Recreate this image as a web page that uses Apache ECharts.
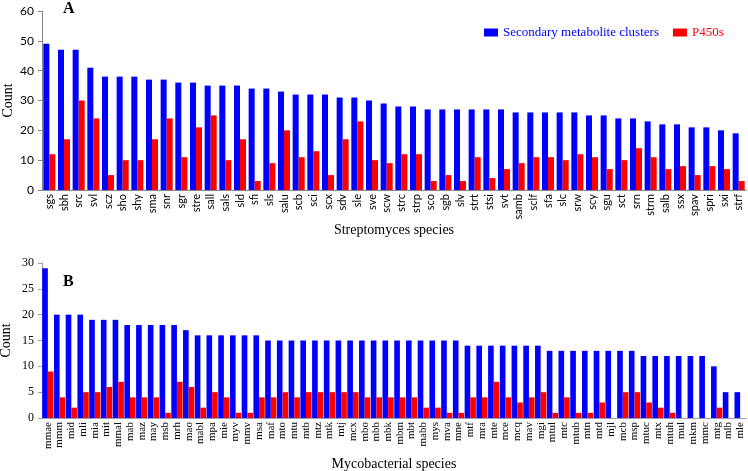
<!DOCTYPE html>
<html>
<head>
<meta charset="utf-8">
<script src="https://cdn.jsdelivr.net/npm/echarts@6/dist/echarts.min.js"></script>
<style>html,body{margin:0;padding:0;background:#fff}#c{width:748px;height:471px}</style>
</head>
<body>
<div id="c"></div>
<script>
const streptoSpecies = ['sgs','sbh','src','svl','scz','sho','shy','sma','snr','sgr','stre','sall','sals','sld','sfi','sls','salu','scb','sci','scx','sdv','sle','sve','scw','strc','strp','sco','sgb','slv','strt','stsi','svt','samb','sclf','sfa','slc','srw','scy','sgu','sct','srn','strm','salb','ssx','spav','spri','sxi','strf'];
const streptoClusters = [49,47,47,41,38,38,38,37,37,36,36,35,35,35,34,34,33,32,32,32,31,31,30,29,28,28,27,27,27,27,27,27,26,26,26,26,26,25,25,24,24,23,22,22,21,21,20,19];
const streptoP450 = [12,17,30,24,5,10,10,17,24,11,21,25,10,17,3,9,20,11,13,5,17,23,10,9,12,12,3,5,3,11,4,7,9,11,11,10,12,11,7,10,14,11,7,8,5,8,7,3];

const mycoSpecies = ['mmae','mmm','mid','mli','mia','mit','mmal','mab','maz','may','msb','mrh','mao','mabl','mpa','mie','myv','mmv','msa','maf','mto','mtu','mtb','mtz','mtk','mtj','mcx','mbo','mbb','mbk','mbm','mbt','mabb','mys','mva','mne','mtf','mra','mte','mce','mcq','mav','mgi','mtul','mtc','mtub','mtn','mtd','mjl','mcb','msp','mtuc','mtx','mtuh','mul','mkm','mmc','mtg','mlb','mle'];
const mycoClusters = [29,20,20,20,19,19,19,18,18,18,18,18,17,16,16,16,16,16,16,15,15,15,15,15,15,15,15,15,15,15,15,15,15,15,15,15,14,14,14,14,14,14,14,13,13,13,13,13,13,13,13,12,12,12,12,12,12,10,5,5];
const mycoP450 = [9,4,2,5,5,6,7,4,4,4,1,7,6,2,5,4,1,1,4,4,5,4,5,5,5,5,5,4,4,4,4,4,2,2,1,1,4,4,7,4,3,4,5,1,4,1,1,3,0,5,5,3,2,1,0,0,0,2,0,0];

const yTicksA = {min:0, max:60, interval:10};
const yTicksB = {min:0, max:30, interval:5};

const axisGray = '#868686';
const axisB = '#9a9ab8';
const chart = echarts.init(document.getElementById('c'), null, {renderer:'canvas'});
const serif = '"Liberation Serif", "Times New Roman", serif';
const sans = 'Lato, "Open Sans", sans-serif';

chart.setOption({
  animation:false,
  backgroundColor:'#fff',
  legend:{
    data:[
      {name:'Secondary metabolite clusters', textStyle:{color:'#0000ff'}},
      {name:'P450s', textStyle:{color:'#ff0000'}}
    ],
    orient:'horizontal',
    left:484, top:26, width:300,
    padding:0,
    itemWidth:14, itemHeight:8, itemGap:14,
    icon:'rect',
    textStyle:{fontFamily:serif, fontSize:13}
  },
  graphic:[
    {type:'text', left:63, top:1, style:{text:'A', font:'bold 16px ' + serif, fill:'#000'}},
    {type:'text', left:63, top:274, style:{text:'B', font:'bold 16px ' + serif, fill:'#000'}}
  ],
  grid:[
    {left:42, right:2, top:11, height:179, containLabel:false, outerBoundsMode:'none'},
    {left:42, right:2, top:263, height:155, containLabel:false, outerBoundsMode:'none'}
  ],
  xAxis:[
    {type:'category', gridIndex:0, data:streptoSpecies,
      name:'Streptomyces species', nameLocation:'middle', nameGap:33, nameMoveOverlap:false,
      nameTextStyle:{fontFamily:serif, fontSize:14, color:'#000'},
      axisLine:{lineStyle:{color:axisGray}},
      axisTick:{length:4, lineStyle:{color:axisGray}},
      axisLabel:{rotate:90, interval:0, fontFamily:sans, fontSize:11, color:'#000', margin:4}},
    {type:'category', gridIndex:1, data:mycoSpecies,
      name:'Mycobacterial species', nameLocation:'middle', nameGap:39, nameMoveOverlap:false,
      nameTextStyle:{fontFamily:serif, fontSize:14, color:'#000'},
      axisLine:{lineStyle:{color:axisB}},
      axisTick:{length:4, lineStyle:{color:axisB}},
      axisLabel:{rotate:90, interval:0, fontFamily:serif, fontSize:11, color:'#000', margin:4}}
  ],
  yAxis:[
    {type:'value', gridIndex:0, min:yTicksA.min, max:yTicksA.max, interval:yTicksA.interval,
      name:'Count', nameLocation:'middle', nameGap:27, nameRotate:90, nameMoveOverlap:false,
      nameTextStyle:{fontFamily:serif, fontSize:14, color:'#000'},
      axisLine:{show:true, lineStyle:{color:axisGray}},
      axisTick:{show:true, length:4, lineStyle:{color:axisGray}},
      splitLine:{show:false},
      axisLabel:{fontFamily:sans, fontSize:12, color:'#000', margin:8}},
    {type:'value', gridIndex:1, min:yTicksB.min, max:yTicksB.max, interval:yTicksB.interval,
      name:'Count', nameLocation:'middle', nameGap:29, nameRotate:90, nameMoveOverlap:false,
      nameTextStyle:{fontFamily:serif, fontSize:14, color:'#000'},
      axisLine:{show:true, lineStyle:{color:axisB}},
      axisTick:{show:true, length:4, lineStyle:{color:axisB}},
      splitLine:{show:false},
      axisLabel:{fontFamily:serif, fontSize:12, color:'#000', margin:8}}
  ],
  series:[
    {name:'Secondary metabolite clusters', type:'bar', xAxisIndex:0, yAxisIndex:0, data:streptoClusters,
      itemStyle:{color:'#0000ff'}, barGap:'0%', barCategoryGap:'18%'},
    {name:'P450s', type:'bar', xAxisIndex:0, yAxisIndex:0, data:streptoP450,
      itemStyle:{color:'#ff0000'}, barGap:'0%', barCategoryGap:'18%'},
    {name:'Secondary metabolite clusters', type:'bar', xAxisIndex:1, yAxisIndex:1, data:mycoClusters,
      itemStyle:{color:'#0000ff'}, barGap:'0%', barCategoryGap:'4%'},
    {name:'P450s', type:'bar', xAxisIndex:1, yAxisIndex:1, data:mycoP450,
      itemStyle:{color:'#ff0000'}, barGap:'0%', barCategoryGap:'4%'}
  ]
});
</script>
</body>
</html>
